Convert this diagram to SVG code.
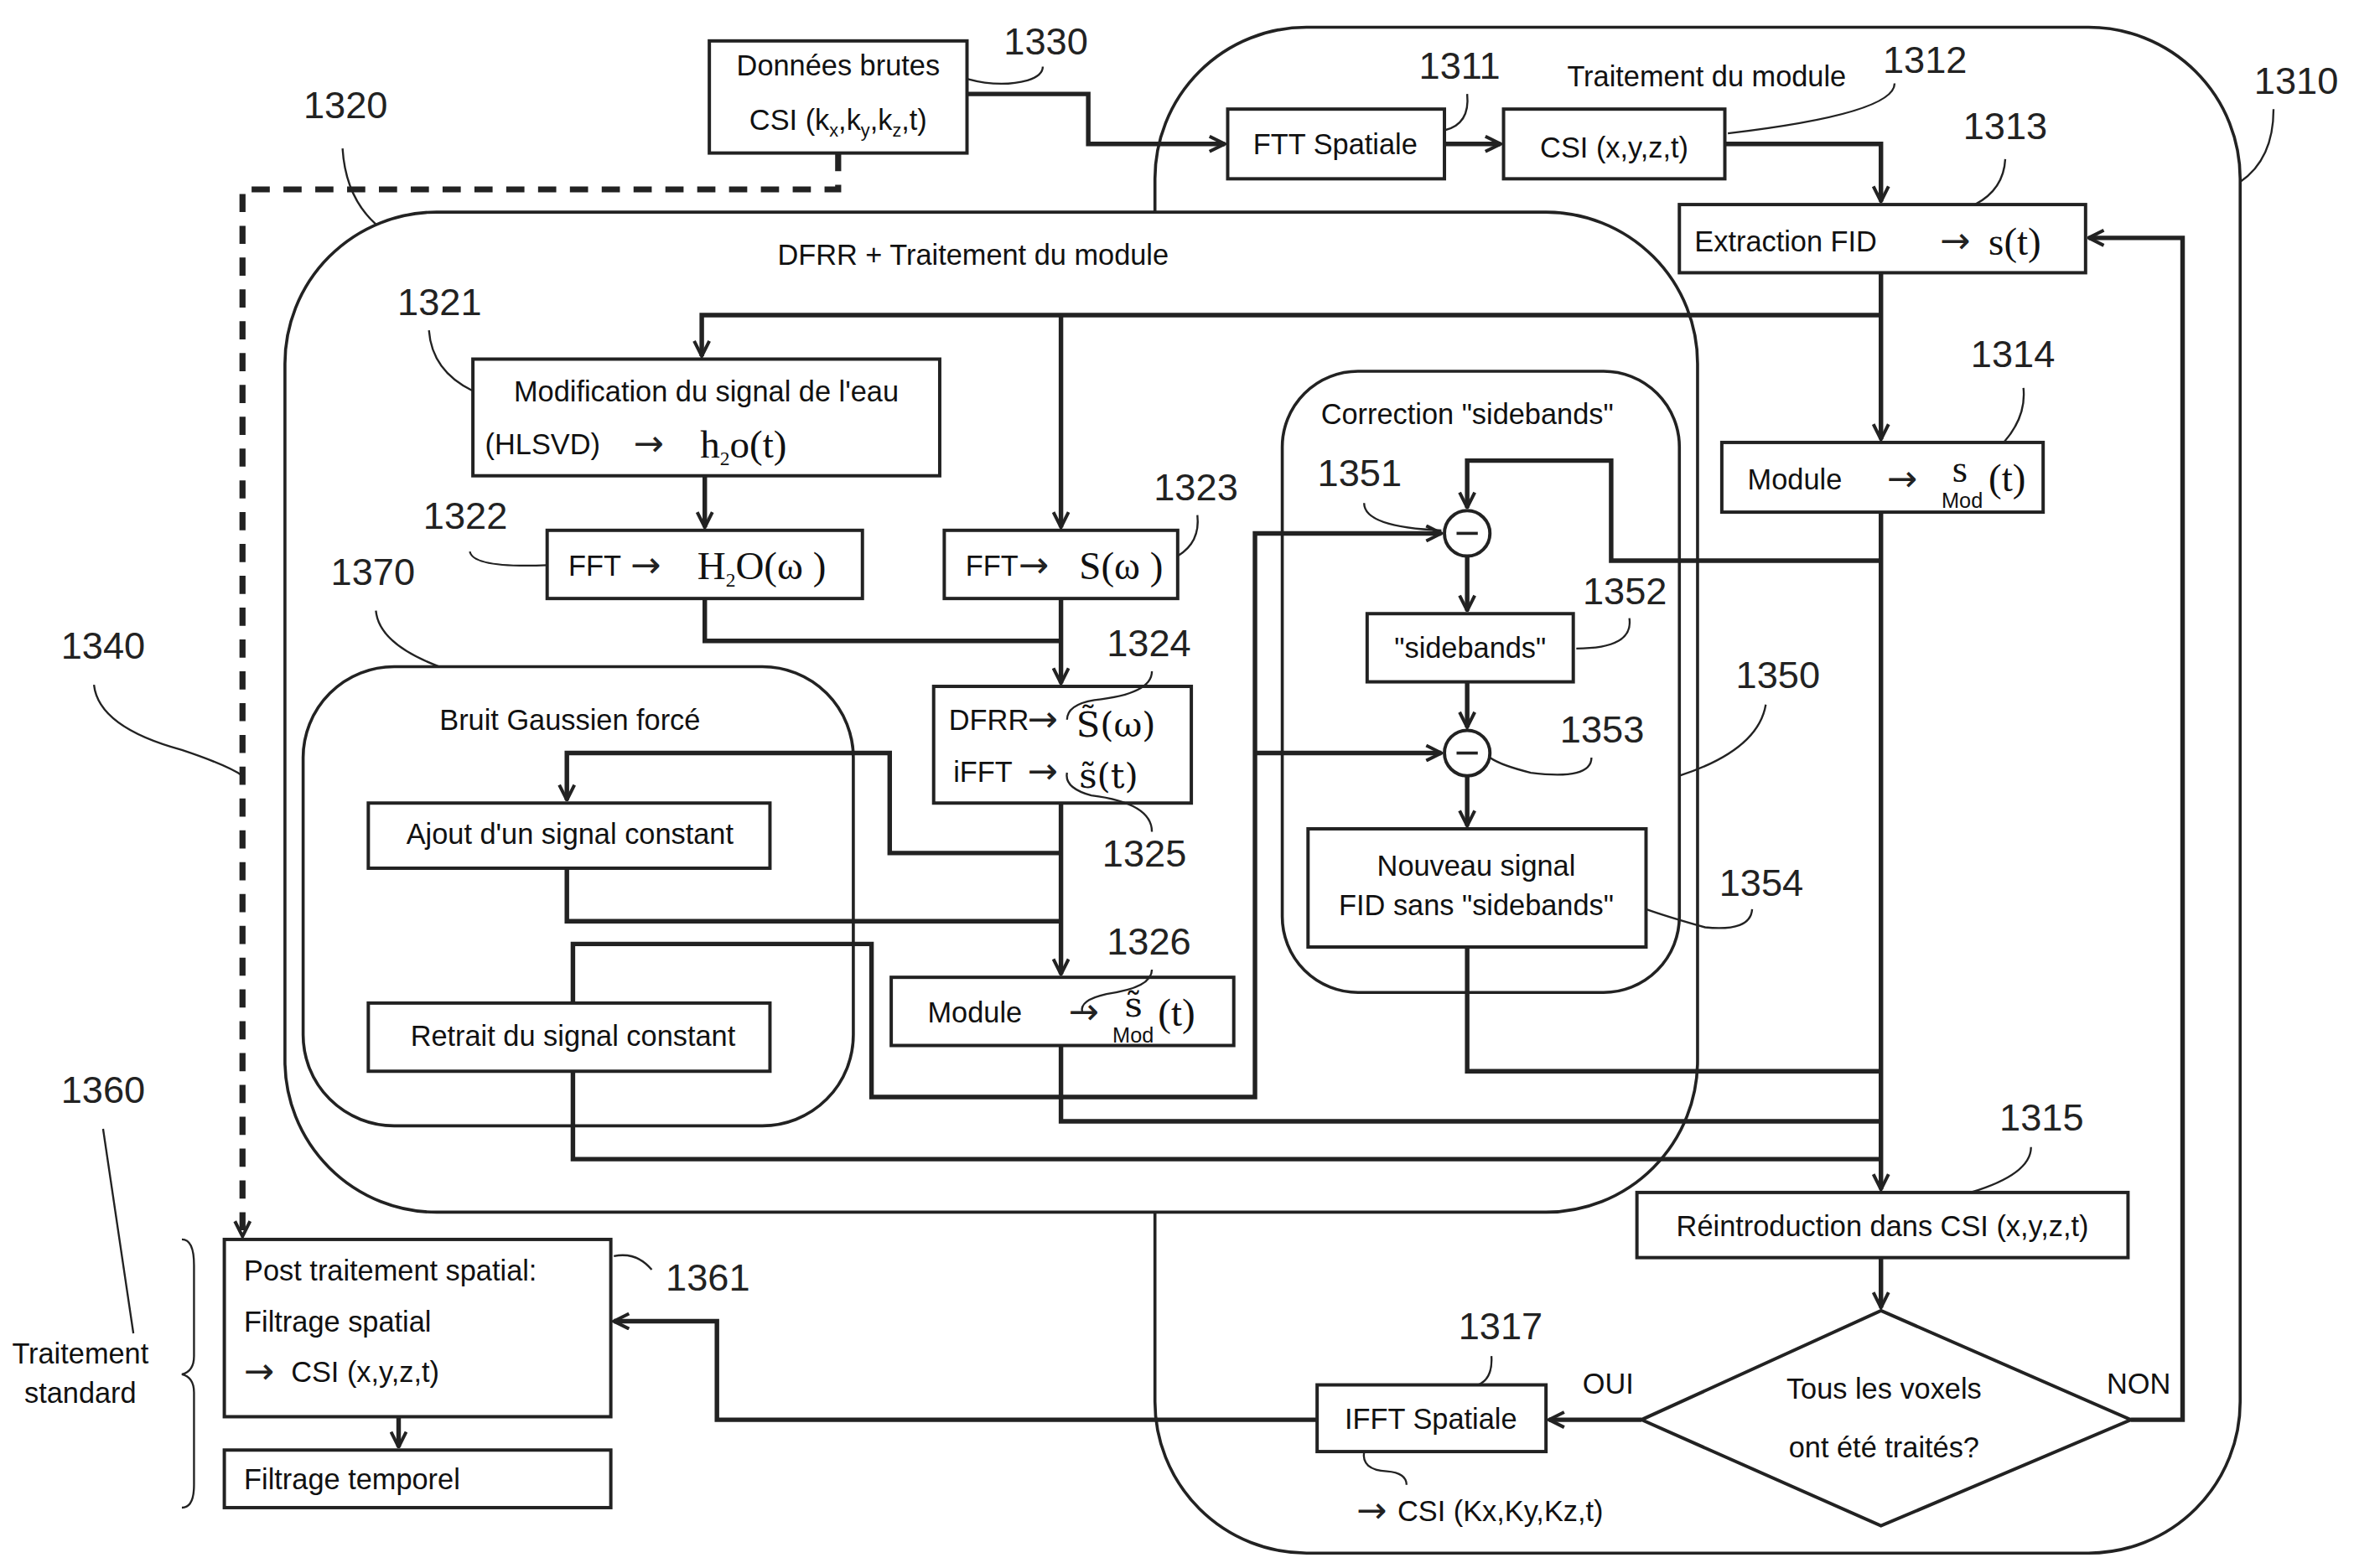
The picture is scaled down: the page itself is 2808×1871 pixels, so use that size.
<svg xmlns="http://www.w3.org/2000/svg" width="2808" height="1871" viewBox="0 0 2808 1871">
<defs>
<marker id="a" viewBox="0 0 12 12" refX="11" refY="6" markerWidth="12" markerHeight="12" markerUnits="userSpaceOnUse" orient="auto"><path d="M1,1 L11,6 L1,11" fill="none" stroke="#222" stroke-width="2.2"/></marker>
</defs>
<style>
.t{font-family:"Liberation Sans",Arial,sans-serif;font-size:19px;fill:#111}
.ar{font-family:"DejaVu Sans",sans-serif;font-size:24px;fill:#222}
.n{font-family:"Liberation Sans",Arial,sans-serif;font-size:25px;fill:#222}
.m{font-family:"Liberation Serif","Times New Roman",serif;font-size:26px;fill:#111}
.d{font-family:"DejaVu Serif",serif;font-size:23px;fill:#111}
.sub{font-family:"Liberation Sans",Arial,sans-serif;font-size:14px;fill:#111}
.b{fill:#fff;stroke:#222;stroke-width:2.2}
.g{fill:none;stroke:#222;stroke-width:2}
.c{fill:none;stroke:#222;stroke-width:3}
.l{fill:none;stroke:#222;stroke-width:1.3}
</style>
<rect width="2808" height="1871" fill="#fff"/>
<g transform="scale(1.808)">
<g id="g1310"><rect x="762" y="18" width="716" height="1007" rx="100" class="g"/></g>
<g id="g1320"><rect x="188" y="140" width="932" height="660" rx="100" fill="#fff" stroke="#222" stroke-width="2"/>
<text x="642" y="175" text-anchor="middle" class="t">DFRR + Traitement du module</text></g>
<g id="g1370"><rect x="200" y="440" width="363" height="303" rx="60" class="g"/>
<text x="376" y="482" text-anchor="middle" class="t">Bruit Gaussien forcé</text></g>
<g id="g1350"><rect x="846" y="245" width="262" height="410" rx="50" class="g"/>
<text x="968" y="280" text-anchor="middle" class="t">Correction "sidebands"</text></g>

<g id="connectors">
<path d="M638,62 H718 V95 H808" class="c" marker-end="url(#a)"/>
<path d="M553,101 V125 H160 V816" fill="none" stroke="#222" stroke-width="4" stroke-dasharray="12,9" marker-end="url(#a)"/>
<path d="M953,95 H990" class="c" marker-end="url(#a)"/>
<path d="M1138,95 H1241 V133" class="c" marker-end="url(#a)"/>
<path d="M1241,180 V290" class="c" marker-end="url(#a)"/>
<path d="M1241,208 H463 V235" class="c" marker-end="url(#a)"/>
<path d="M700,208 V348" class="c" marker-end="url(#a)"/>
<path d="M465,314 V348" class="c" marker-end="url(#a)"/>
<path d="M465,395 V423 H700" class="c"/>
<path d="M700,395 V451" class="c" marker-end="url(#a)"/>
<path d="M700,530 V643" class="c" marker-end="url(#a)"/>
<path d="M700,563 H587 V497 H374 V528" class="c" marker-end="url(#a)"/>
<path d="M374,573 V608 H700" class="c"/>
<path d="M1241,338 V785" class="c" marker-end="url(#a)"/>
<path d="M1241,370 H1063 V304 H968 V335" class="c" marker-end="url(#a)"/>
<path d="M378,662 V623 H575 V724 H828 V352 H951" class="c" marker-end="url(#a)"/>
<path d="M828,497 H951" class="c" marker-end="url(#a)"/>
<path d="M968,367 V403" class="c" marker-end="url(#a)"/>
<path d="M968,450 V480" class="c" marker-end="url(#a)"/>
<path d="M968,512 V545" class="c" marker-end="url(#a)"/>
<path d="M378,707 V765 H1241" class="c"/>
<path d="M700,690 V740 H1241" class="c"/>
<path d="M968,625 V707 H1241" class="c"/>
<path d="M1241,830 V863" class="c" marker-end="url(#a)"/>
<path d="M1406,937 H1440 V157 H1378" class="c" marker-end="url(#a)"/>
<path d="M1083,937 H1022" class="c" marker-end="url(#a)"/>
<path d="M869,937 H473 V872 H405" class="c" marker-end="url(#a)"/>
<path d="M263,935 V955" class="c" marker-end="url(#a)"/>
<path d="M120,818 Q128,818 128,835 V895 Q128,905 120,907 Q128,909 128,919 V980 Q128,995 120,995" class="l"/>
</g>

<g id="n1330"><rect x="468" y="27" width="170" height="74" class="b"/>
<text x="553" y="50" text-anchor="middle" class="t">Données brutes</text>
<text x="553" y="86" text-anchor="middle" class="t">CSI (k<tspan font-size="12" dy="4">x</tspan><tspan dy="-4">,k</tspan><tspan font-size="12" dy="4">y</tspan><tspan dy="-4">,k</tspan><tspan font-size="12" dy="4">z</tspan><tspan dy="-4">,t)</tspan></text></g>
<g id="n1311"><rect x="810" y="72" width="143" height="46" class="b"/><text x="881" y="102" text-anchor="middle" class="t">FTT Spatiale</text></g>
<g id="n1312"><rect x="992" y="72" width="146" height="46" class="b"/><text x="1065" y="104" text-anchor="middle" class="t">CSI (x,y,z,t)</text>
<text x="1126" y="57" text-anchor="middle" class="t">Traitement du module</text></g>
<g id="n1313"><rect x="1108" y="135" width="268" height="45" class="b"/><text x="1118" y="166" class="t">Extraction FID</text>
<text x="1280" y="167" class="ar">→</text><text x="1312" y="168" class="m">s(t)</text></g>
<g id="n1314"><rect x="1136" y="292" width="212" height="46" class="b"/><text x="1153" y="323" class="t">Module</text>
<text x="1245" y="324" class="ar">→</text><text x="1288" y="318" class="m" font-size="20">s</text><text x="1281" y="335" class="sub">Mod</text><text x="1312" y="324" class="m">(t)</text></g>
<g id="n1321"><rect x="312" y="237" width="308" height="77" class="b"/>
<text x="466" y="265" text-anchor="middle" class="t">Modification du signal de l'eau</text>
<text x="320" y="300" class="t">(HLSVD)</text><text x="418" y="301" class="ar">→</text>
<text x="462" y="302" class="m">h<tspan font-size="13" dy="5">2</tspan><tspan dy="-5">o(t)</tspan></text></g>
<g id="n1322"><rect x="361" y="350" width="208" height="45" class="b"/><text x="375" y="380" class="t">FFT</text><text x="416" y="381" class="ar">→</text>
<text x="460" y="382" class="m">H<tspan font-size="13" dy="5">2</tspan><tspan dy="-5">O(ω )</tspan></text></g>
<g id="n1323"><rect x="623" y="350" width="154" height="45" class="b"/><text x="637" y="380" class="t">FFT</text><text x="672" y="381" class="ar">→</text>
<text x="712" y="382" class="m">S(ω )</text></g>
<g id="n1324"><rect x="616" y="453" width="170" height="77" class="b"/>
<text x="626" y="482" class="t">DFRR</text><text x="678" y="483" class="ar">→</text><text x="710" y="486" class="d">S̃(ω)</text>
<text x="629" y="516" class="t">iFFT</text><text x="678" y="517" class="ar">→</text><text x="712" y="520" class="d">s̃(t)</text></g>
<g id="n1326"><rect x="588" y="645" width="226" height="45" class="b"/><text x="612" y="675" class="t">Module</text>
<text x="705" y="676" class="ar">→</text><text x="742" y="671" class="d" font-size="18">s̃</text><text x="734" y="688" class="sub">Mod</text><text x="764" y="677" class="m">(t)</text></g>
<g id="n1371"><rect x="243" y="530" width="265" height="43" class="b"/><text x="376" y="557" text-anchor="middle" class="t">Ajout d'un signal constant</text></g>
<g id="n1372"><rect x="243" y="662" width="265" height="45" class="b"/><text x="378" y="690" text-anchor="middle" class="t">Retrait du signal constant</text></g>
<g id="n1351"><circle cx="968" cy="352" r="15" class="b"/><path d="M961,352 H975" class="g"/></g>
<g id="n1352"><rect x="902" y="405" width="136" height="45" class="b"/><text x="970" y="434" text-anchor="middle" class="t">"sidebands"</text></g>
<g id="n1353"><circle cx="968" cy="497" r="15" class="b"/><path d="M961,497 H975" class="g"/></g>
<g id="n1354"><rect x="863" y="547" width="223" height="78" class="b"/>
<text x="974" y="578" text-anchor="middle" class="t">Nouveau signal</text><text x="974" y="604" text-anchor="middle" class="t">FID sans "sidebands"</text></g>
<g id="n1315"><rect x="1080" y="787" width="324" height="43" class="b"/><text x="1242" y="816" text-anchor="middle" class="t">Réintroduction dans CSI (x,y,z,t)</text></g>
<g id="n1316"><path d="M1241,865 L1406,937 L1241,1007 L1083,937 Z" class="b"/>
<text x="1243" y="923" text-anchor="middle" class="t">Tous les voxels</text><text x="1243" y="962" text-anchor="middle" class="t">ont été traités?</text>
<text x="1061" y="920" text-anchor="middle" class="t">OUI</text><text x="1411" y="920" text-anchor="middle" class="t">NON</text></g>
<g id="n1317"><rect x="869" y="914" width="151" height="44" class="b"/><text x="944" y="943" text-anchor="middle" class="t">IFFT Spatiale</text>
<path d="M900,958 Q898,970 915,971 Q928,972 928,980" class="l"/>
<text x="895" y="1005" class="ar">→</text><text x="922" y="1004" class="t">CSI (Kx,Ky,Kz,t)</text></g>
<g id="n1361"><rect x="148" y="818" width="255" height="117" class="b"/>
<text x="161" y="845" class="t">Post traitement spatial:</text><text x="161" y="879" class="t">Filtrage spatial</text><text x="161" y="913" class="ar">→</text><text x="192" y="912" class="t">CSI (x,y,z,t)</text></g>
<g id="n1362"><rect x="148" y="957" width="255" height="38" class="b"/><text x="161" y="983" class="t">Filtrage temporel</text></g>
<g id="labels">
<text x="53" y="900" text-anchor="middle" class="t">Traitement</text><text x="53" y="926" text-anchor="middle" class="t">standard</text>
<text x="690" y="36" text-anchor="middle" class="n">1330</text><path d="M638,52 Q660,58 678,53 Q688,50 688,44" class="l"/>
<text x="1515" y="62" text-anchor="middle" class="n">1310</text><path d="M1500,72 Q1500,105 1478,120" class="l"/>
<text x="228" y="78" text-anchor="middle" class="n">1320</text><path d="M226,98 Q228,130 248,148" class="l"/>
<text x="963" y="52" text-anchor="middle" class="n">1311</text><path d="M968,62 Q970,82 953,86" class="l"/>
<text x="1270" y="48" text-anchor="middle" class="n">1312</text><path d="M1250,55 Q1250,75 1140,88" class="l"/>
<text x="1323" y="92" text-anchor="middle" class="n">1313</text><path d="M1323,105 Q1322,125 1303,135" class="l"/>
<text x="1328" y="242" text-anchor="middle" class="n">1314</text><path d="M1335,256 Q1337,275 1322,292" class="l"/>
<text x="290" y="208" text-anchor="middle" class="n">1321</text><path d="M283,218 Q285,245 312,258" class="l"/>
<text x="307" y="349" text-anchor="middle" class="n">1322</text><path d="M310,364 Q312,375 361,373" class="l"/>
<text x="789" y="330" text-anchor="middle" class="n">1323</text><path d="M790,340 Q792,358 777,367" class="l"/>
<text x="758" y="433" text-anchor="middle" class="n">1324</text><path d="M760,443 Q760,458 722,462 Q704,465 704,475" class="l"/>
<text x="755" y="572" text-anchor="middle" class="n">1325</text><path d="M760,549 Q760,530 720,525 Q702,520 704,510" class="l"/>
<text x="758" y="630" text-anchor="middle" class="n">1326</text><path d="M760,640 Q760,652 730,656 Q712,660 714,668" class="l"/>
<text x="246" y="386" text-anchor="middle" class="n">1370</text><path d="M248,403 Q250,425 290,440" class="l"/>
<text x="68" y="435" text-anchor="middle" class="n">1340</text><path d="M62,452 Q65,480 120,495 Q150,505 160,512" class="l"/>
<text x="68" y="728" text-anchor="middle" class="n">1360</text><path d="M68,745 L88,880" class="l"/>
<text x="467" y="852" text-anchor="middle" class="n">1361</text><path d="M405,829 Q420,826 430,838" class="l"/>
<text x="897" y="321" text-anchor="middle" class="n">1351</text><path d="M900,332 Q900,348 951,350" class="l"/>
<text x="1072" y="399" text-anchor="middle" class="n">1352</text><path d="M1075,408 Q1078,428 1040,428" class="l"/>
<text x="1057" y="490" text-anchor="middle" class="n">1353</text><path d="M1050,500 Q1050,515 1010,510 Q990,505 983,500" class="l"/>
<text x="1173" y="454" text-anchor="middle" class="n">1350</text><path d="M1165,465 Q1160,495 1108,512" class="l"/>
<text x="1162" y="591" text-anchor="middle" class="n">1354</text><path d="M1156,600 Q1155,615 1125,612 Q1100,605 1086,600" class="l"/>
<text x="1347" y="746" text-anchor="middle" class="n">1315</text><path d="M1340,757 Q1340,775 1300,787" class="l"/>
<text x="990" y="884" text-anchor="middle" class="n">1317</text><path d="M984,895 Q985,910 975,914" class="l"/>
</g>
</g>
</svg>
